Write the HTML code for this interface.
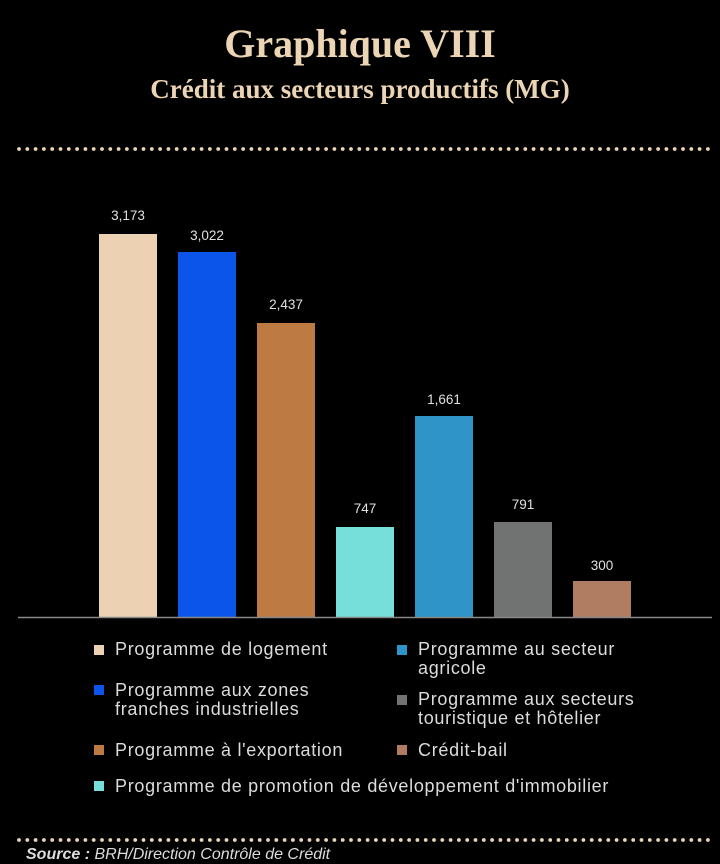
<!DOCTYPE html>
<html><head><meta charset="utf-8"><style>
body{margin:0;background:#000;width:720px;height:861px;overflow:hidden;position:relative;font-family:"Liberation Sans",sans-serif}
.t1{position:absolute;top:20px;width:720px;text-align:center;font-family:"Liberation Serif",serif;font-weight:bold;font-size:40px;color:#ecd5b4}
.t2{position:absolute;top:74px;width:720px;text-align:center;font-family:"Liberation Serif",serif;font-weight:bold;font-size:27px;color:#ecd5b4}
.lg{position:absolute;font-size:18px;letter-spacing:0.7px;color:#dcdcdc;line-height:19px}
.sq{position:absolute;width:10px;height:10px}
.src{position:absolute;left:26px;top:846px;font-size:16px;font-style:italic;color:#ddd}
</style></head><body>
<div class="t1">Graphique VIII</div>
<div class="t2">Crédit aux secteurs productifs (MG)</div>
<svg width="720" height="861" style="position:absolute;left:0;top:0">
<line x1="19" y1="149" x2="712" y2="149" stroke="#ecd5b4" stroke-width="3.8" stroke-linecap="round" stroke-dasharray="0 8.3"/>
<line x1="19" y1="840" x2="712" y2="840" stroke="#ecd5b4" stroke-width="3.8" stroke-linecap="round" stroke-dasharray="0 8.3"/>
<rect x="99" y="234" width="58" height="383" fill="#ecd2b2"/>
<rect x="178" y="252" width="58" height="365" fill="#0b55ea"/>
<rect x="257" y="323" width="58" height="294" fill="#bd7a43"/>
<rect x="336" y="527" width="58" height="90" fill="#77dfd9"/>
<rect x="415" y="416" width="58" height="201" fill="#2f95c8"/>
<rect x="494" y="522" width="58" height="95" fill="#717272"/>
<rect x="573" y="581" width="58" height="36" fill="#b17d62"/>
<line x1="18" y1="617.5" x2="712" y2="617.5" stroke="#888" stroke-width="1.5"/>
<g font-family="Liberation Sans" font-size="13.5" fill="#e0e0e0" text-anchor="middle">
<text x="128" y="220">3,173</text><text x="207" y="240">3,022</text><text x="286" y="309">2,437</text>
<text x="365" y="513">747</text><text x="444" y="404">1,661</text><text x="523" y="509">791</text><text x="602" y="570">300</text>
</g></svg>
<div class="sq" style="left:94px;top:645px;background:#ecd2b2"></div>
<div class="lg" style="left:115px;top:640px">Programme de logement</div>
<div class="sq" style="left:94px;top:685px;background:#0b55ea"></div>
<div class="lg" style="left:115px;top:681px">Programme aux zones<br>franches industrielles</div>
<div class="sq" style="left:94px;top:745px;background:#bd7a43"></div>
<div class="lg" style="left:115px;top:741px">Programme à l'exportation</div>
<div class="sq" style="left:94px;top:781px;background:#77dfd9"></div>
<div class="lg" style="left:115px;top:777px">Programme de promotion de développement d'immobilier</div>
<div class="sq" style="left:397px;top:645px;background:#2f95c8"></div>
<div class="lg" style="left:418px;top:640px">Programme au secteur<br>agricole</div>
<div class="sq" style="left:397px;top:695px;background:#717272"></div>
<div class="lg" style="left:418px;top:690px">Programme aux secteurs<br>touristique et hôtelier</div>
<div class="sq" style="left:397px;top:745px;background:#b17d62"></div>
<div class="lg" style="left:418px;top:741px">Crédit-bail</div>
<div class="src"><b>Source :</b> BRH/Direction Contrôle de Crédit</div>
</body></html>
